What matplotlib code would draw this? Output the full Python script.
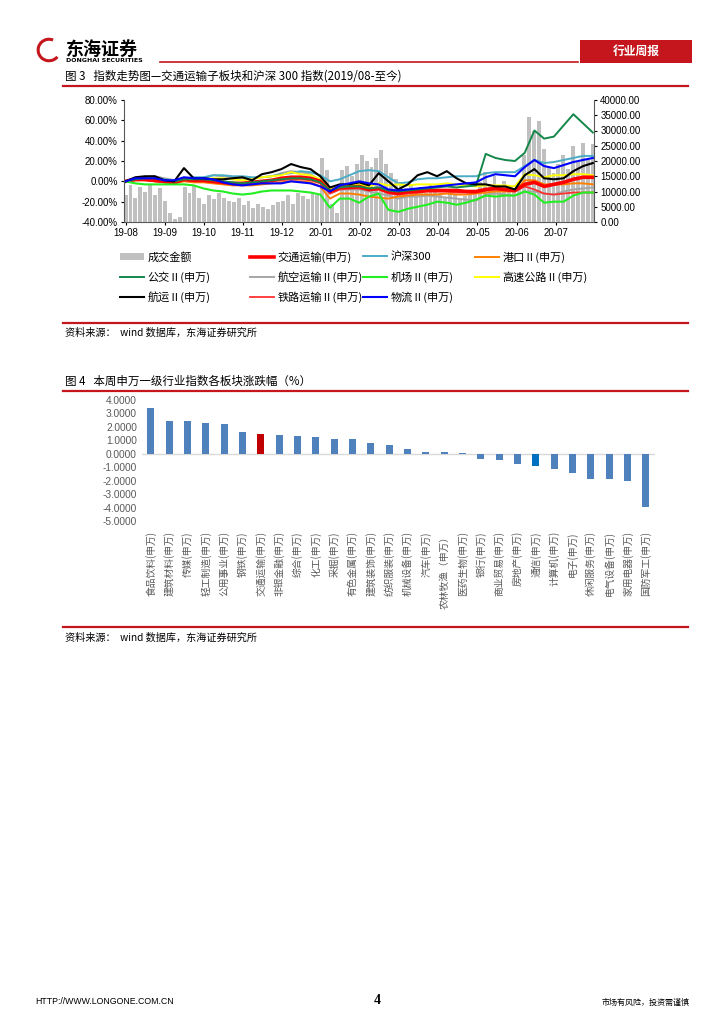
import numpy as np
import matplotlib
matplotlib.use('Agg')
import matplotlib.pyplot as plt
from matplotlib.patches import Rectangle, Arc
from matplotlib.lines import Line2D
from matplotlib.ticker import FuncFormatter, MultipleLocator

plt.rcParams['font.family'] = ['Noto Sans CJK SC', 'DejaVu Sans']
plt.rcParams['axes.unicode_minus'] = False

# ---------------- data : figure 3 ----------------
mois_labels = ['19-08', '19-09', '19-10', '19-11', '19-12', '20-01',
               '20-02', '20-03', '20-04', '20-05', '20-06', '20-07']

# volume (right axis), ~2 points per week
volume = [9000, 12000, 8000, 11500, 10000, 12500, 9000, 11000,
          7000, 3000, 1000, 1500, 11500, 9500, 12000, 8000,
          6000, 9000, 7500, 9500, 8000, 7000, 6500, 8000,
          5500, 7000, 4500, 6000, 5000, 4200, 5500, 6500,
          7000, 9000, 6000, 9500, 8500, 7500, 10000, 9000,
          21000, 17000, 6000, 3000, 17000, 18500, 15000, 19000,
          22000, 20000, 18000, 21000, 23600, 19000, 16000, 14000,
          13000, 11000, 12500, 10000, 11500, 9500, 12000, 10500,
          9500, 8000, 10500, 9000, 7500, 8500, 9000, 10500,
          13000, 16500, 12500, 15000, 11500, 13500, 12000, 11000,
          12500, 22000, 34500, 30000, 33000, 24000, 18000, 16000,
          19000, 22000, 17500, 25000, 20000, 26000, 21000, 25500]

# index series in %, ~1 point per week
hangyun = [0, 4, 5, 5, 1, 0, 13, 3, 3, 2, 2, 3, 4, 1, 7, 9,
           12, 17, 14, 12, 5, -6, -3, -3, -1, -4, 8, 0, -8, -3, 6, 9,
           5, 10, 3, -2, -3, -3, -5, -5, -8, 6, 12, 3, 2, 3, 10, 15, 18]
hs300 = [0, 2, 3, 4, 2, 1, 3, 4, 4, 6, 6, 5, 5, 4, 4, 5,
         7, 8, 10, 9, 6, 0, 2, 6, 10, 11, 10, 4, -2, -1, 2, 3,
         3, 4, 5, 5, 5, 8, 9, 9, 9, 15, 21, 18, 19, 21, 23, 25, 25]
wuliu = [0, 3, 3, 3, 1, 1, 4, 3, 3, 2, -1, -3, -4, -3, -2, -2,
         -2, 0, -1, -2, -5, -10, -4, -2, 0, -2, -3, -8, -9, -8, -7, -6,
         -5, -4, -3, -2, -1, 4, 7, 6, 5, 14, 21, 15, 13, 16, 19, 21, 23]
gaosu = [0, 2, 3, 3, 1, 0, 2, 2, 2, 3, 3, 2, 1, 2, 4, 5,
         6, 9, 7, 6, 2, -8, -5, -4, -3, -5, -2, -4, -3, -4, -3, -3,
         -3, -2, -3, -4, -5, -4, -4, -4, -5, 7, 6, 4, 6, 6, 7, 7, 6]
jiaotong = [0, 2, 2, 1, 0, -1, 2, 1, 1, 0, -1, -2, -2, -1, 0, 1,
            3, 4, 4, 3, 0, -10, -6, -6, -5, -8, -7, -10, -12, -10, -10, -9,
            -9, -9, -9, -10, -10, -8, -7, -8, -9, -3, -1, -5, -3, -1, 2, 4, 4]
tielu = [0, 1, 1, 0, -1, -2, 1, 0, 0, -1, -2, -3, -3, -2, -1, 0,
         1, 2, 2, 1, -2, -12, -8, -7, -7, -9, -8, -12, -13, -12, -11, -10,
         -10, -10, -11, -11, -11, -9, -8, -9, -10, -5, -8, -12, -13, -12, -11, -11, -11]
gangkou = [0, 1, 1, 0, -1, -2, 0, -1, -1, -2, -3, -4, -4, -4, -3, -2,
           -1, 0, 0, -1, -5, -17, -12, -12, -13, -15, -16, -17, -15, -14, -13, -13,
           -13, -12, -13, -13, -12, -11, -10, -10, -10, 1, 1, -3, -3, -3, -2, -2, -3]
hangkong = [0, 3, 4, 5, 3, 1, 3, 3, 3, 6, 5, 4, 3, 3, 4, 5,
            8, 10, 9, 7, 1, -12, -8, -8, -8, -10, -12, -14, -17, -15, -15, -14,
            -15, -16, -17, -18, -19, -13, -12, -13, -14, -10, -10, -12, -13, -10, -8, -7, -6]
jichang = [0, -2, -3, -3, -3, -3, -3, -4, -7, -9, -10, -12, -13, -12, -10, -9,
           -9, -9, -10, -11, -13, -26, -17, -17, -21, -15, -12, -28, -30, -27, -25, -23,
           -20, -21, -23, -21, -18, -14, -15, -14, -14, -10, -13, -21, -20, -20, -14, -11, -11]
gongjiao = [0, 2, 3, 3, 1, 0, 2, 2, 2, 1, 0, -1, -2, -1, 0, 1,
            2, 3, 3, 2, -1, -9, -6, -5, -5, -7, -6, -9, -10, -9, -8, -7,
            -6, -5, -6, -5, -4, 27, 23, 21, 20, 28, 50, 42, 44, 55, 66, 57, 48]

# ---------------- data : figure 4 ----------------
secteurs = ['食品饮料(申万)', '建筑材料(申万)', '传媒(申万)', '轻工制造(申万)', '公用事业(申万)',
            '钢铁(申万)', '交通运输(申万)', '非银金融(申万)', '综合(申万)', '化工(申万)',
            '采掘(申万)', '有色金属(申万)', '建筑装饰(申万)', '纺织服装(申万)', '机械设备(申万)',
            '汽车(申万)', '农林牧渔（申万）', '医药生物(申万)', '银行(申万)', '商业贸易(申万)',
            '房地产(申万)', '通信(申万)', '计算机(申万)', '电子(申万)', '休闲服务(申万)',
            '电气设备(申万)', '家用电器(申万)', '国防军工(申万)']
variations = [3.38, 2.42, 2.42, 2.30, 2.22, 1.63, 1.48, 1.43, 1.36, 1.23,
              1.11, 1.11, 0.81, 0.64, 0.40, 0.15, 0.15, 0.07, -0.35, -0.42,
              -0.77, -0.86, -1.09, -1.41, -1.83, -1.83, -2.02, -3.95]

ROUGE = '#c4161c'
W, H = 724, 1024


def fx(x):
    return x / W


def fy(y):
    return 1 - y / H


fig = plt.figure(figsize=(7.24, 10.24), dpi=100)

###   EN-TETE   ###
fig.patches.append(Arc((fx(49), fy(50)), 0.03, 0.021, theta1=60, theta2=330,
                       transform=fig.transFigure, color=ROUGE, lw=2.2))
fig.text(fx(66), fy(49), '东海证券', fontsize=13, fontweight='bold', va='center', ha='left')
fig.text(fx(66), fy(60), 'DONGHAI SECURITIES', fontsize=4.5, fontweight='bold',
         family=['DejaVu Sans'], va='center', ha='left')
fig.add_artist(Line2D([fx(160), fx(578)], [fy(62), fy(62)], color=ROUGE, lw=1.2))
fig.patches.append(Rectangle((fx(580), fy(63)), fx(112), 23 / H, transform=fig.transFigure,
                             facecolor=ROUGE, edgecolor='none'))
fig.text(fx(636), fy(51.5), '行业周报', color='white', fontsize=8.5, fontweight='bold',
         ha='center', va='center')

fig.text(fx(65), fy(76), '图 3   指数走势图—交通运输子板块和沪深 300 指数(2019/08-至今)',
         fontsize=8.3, va='center', ha='left')
fig.add_artist(Line2D([fx(63), fx(688)], [fy(86), fy(86)], color=ROUGE, lw=1.6))

###   FIGURE 3   ###
ax = fig.add_axes([fx(124), fy(222), fx(470), 122 / H])
ax2 = ax.twinx()
x_vol = np.linspace(0, 11.95, len(volume))
ax2.bar(x_vol, volume, width=0.1, color='#c0c0c0', label='成交金额')
ax2.set_ylim(0, 40000)
ax2.yaxis.set_major_locator(MultipleLocator(5000))
ax2.yaxis.set_major_formatter(FuncFormatter(lambda v, p: '%.2f' % v))

x_idx = np.linspace(0, 11.95, len(hs300))
series = [
    (hangkong, '航空运输Ⅱ(申万)', '#a6a6a6', 1.4),
    (hs300, '沪深300', '#4bacc6', 1.4),
    (gangkou, '港口Ⅱ(申万)', '#ff8000', 1.4),
    (gaosu, '高速公路Ⅱ(申万)', '#ffff00', 1.4),
    (tielu, '铁路运输Ⅱ(申万)', '#ff3030', 1.3),
    (jiaotong, '交通运输(申万)', '#ff0000', 2.6),
    (gongjiao, '公交Ⅱ(申万)', '#14874a', 1.4),
    (jichang, '机场Ⅱ(申万)', '#22ee22', 1.5),
    (hangyun, '航运Ⅱ(申万)', '#000000', 1.5),
    (wuliu, '物流Ⅱ(申万)', '#0000ff', 1.5),
]
handles = {}
for vals, lab, col, lw in series:
    ln, = ax.plot(x_idx, vals, color=col, lw=lw, label=lab)
    handles[lab] = ln
handles['成交金额'] = ax2.containers[0]

ax.set_zorder(ax2.get_zorder() + 1)
ax.patch.set_visible(False)
ax.set_ylim(-40, 80)
ax.set_xlim(-0.04, 11.98)
ax.yaxis.set_major_locator(MultipleLocator(20))
ax.yaxis.set_major_formatter(FuncFormatter(lambda v, p: '%.2f%%' % v))
ax.set_xticks(range(12))
ax.set_xticklabels(mois_labels)
for a in (ax, ax2):
    a.spines['top'].set_visible(False)
    a.tick_params(labelsize=7, length=2.5, width=0.8, pad=2)
    for t in a.get_xticklabels() + a.get_yticklabels():
        t.set_family(['Liberation Sans', 'DejaVu Sans'])
ax.spines['right'].set_visible(False)
ax2.spines['left'].set_visible(False)
ax2.spines['bottom'].set_visible(False)
ax.spines['left'].set_color('#595959')
ax.spines['bottom'].set_color('#595959')
ax2.spines['right'].set_color('#595959')

# legende : chaque entree placee a sa case (colonne, ligne) comme la reference
grille = [['成交金额', '交通运输(申万)', '沪深300', '港口Ⅱ(申万)'],
          ['公交Ⅱ(申万)', '航空运输Ⅱ(申万)', '机场Ⅱ(申万)', '高速公路Ⅱ(申万)'],
          ['航运Ⅱ(申万)', '铁路运输Ⅱ(申万)', '物流Ⅱ(申万)']]
col_x = [120, 250, 363, 475]
row_y = [257, 277, 297]
for r, ligne in enumerate(grille):
    for c, lab in enumerate(ligne):
        fig.legend([handles[lab]], [lab], loc='center left',
                   bbox_to_anchor=(fx(col_x[c]), fy(row_y[r])), frameon=False,
                   borderpad=0, borderaxespad=0, fontsize=8, handlelength=2.2,
                   handletextpad=0.3)

fig.add_artist(Line2D([fx(63), fx(688)], [fy(323), fy(323)], color=ROUGE, lw=1.6))
fig.text(fx(65), fy(333), '资料来源：  wind 数据库，东海证券研究所', fontsize=7.3,
         va='center', ha='left')

###   FIGURE 4   ###
fig.text(fx(65), fy(381), '图 4   本周申万一级行业指数各板块涨跌幅（%）',
         fontsize=8.3, va='center', ha='left')
fig.add_artist(Line2D([fx(63), fx(688)], [fy(391), fy(391)], color=ROUGE, lw=1.6))

bx = fig.add_axes([fx(141.7), fy(521.3), fx(513.3), 121.3 / H])
couleurs = ['#4f81bd'] * len(secteurs)
couleurs[secteurs.index('交通运输(申万)')] = '#c00000'
couleurs[secteurs.index('通信(申万)')] = '#0070c0'
pos = np.arange(len(secteurs))
bx.bar(pos, variations, width=0.37, color=couleurs)
bx.axhline(0, color='#d9d9d9', lw=1, zorder=0)
bx.set_xlim(-0.5, len(secteurs) - 0.5)
bx.set_ylim(-5, 4)
bx.yaxis.set_major_locator(MultipleLocator(1))
bx.yaxis.set_major_formatter(FuncFormatter(lambda v, p: '%.4f' % v))
for s in bx.spines.values():
    s.set_visible(False)
bx.tick_params(length=0, labelsize=7.3, labelcolor='#595959')
for t in bx.get_yticklabels():
    t.set_family(['Liberation Sans', 'DejaVu Sans'])
bx.set_xticks(pos)
bx.set_xticklabels(secteurs, rotation=90, fontsize=7, va='top', ha='center')
bx.tick_params(axis='x', pad=7)

fig.add_artist(Line2D([fx(63), fx(688)], [fy(627), fy(627)], color=ROUGE, lw=1.6))
fig.text(fx(65), fy(638), '资料来源：  wind 数据库，东海证券研究所', fontsize=7.3,
         va='center', ha='left')

###   PIED DE PAGE   ###
fig.text(fx(35), fy(1002), 'HTTP://WWW.LONGONE.COM.CN', fontsize=6.3,
         family=['Liberation Sans'], va='center', ha='left')
fig.text(fx(377), fy(1001), '4', fontsize=10, fontweight='bold',
         family=['Liberation Serif'], va='center', ha='center')
fig.text(fx(690), fy(1002), '市场有风险，投资需谨慎', fontsize=5.8, va='center', ha='right')

fig.savefig('out.png', dpi=100)
